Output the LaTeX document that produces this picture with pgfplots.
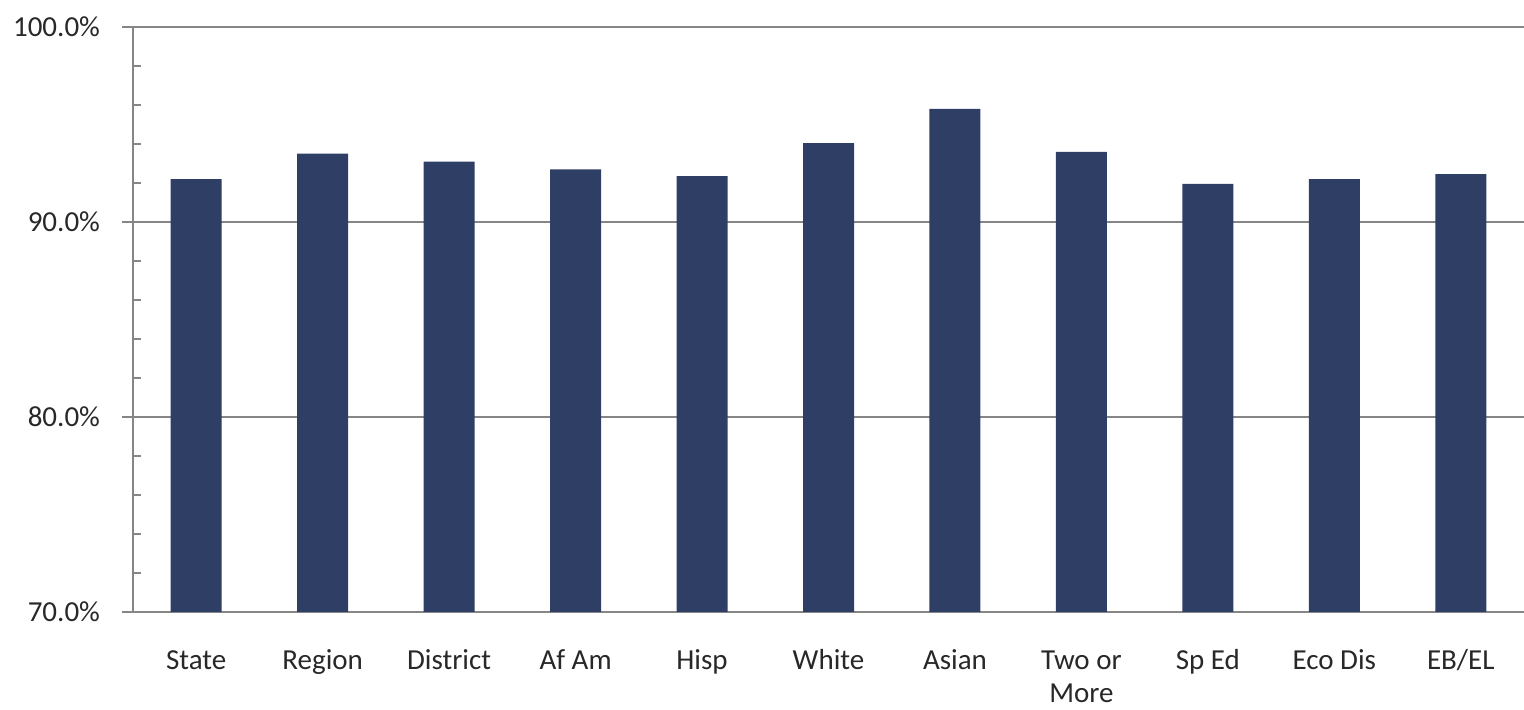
\documentclass[border=0pt]{standalone}
\usepackage{pgfplots}
\pgfplotsset{compat=1.18}
\usepackage{fontspec}
\setmainfont{Carlito}
\definecolor{barc}{RGB}{47,62,101}
\definecolor{gridc}{RGB}{134,134,134}
\definecolor{txt}{RGB}{40,40,40}
\begin{document}
\begin{tikzpicture}
\useasboundingbox (-66.5pt,-49pt) rectangle (695.5pt,306pt);
\begin{axis}[
  scale only axis, width=695.5pt, height=292.5pt,
  at={(0,0)}, anchor=south west,
  xmin=-0.5, xmax=10.5, ymin=70, ymax=100,
  axis lines*=left,
  axis line style={gridc, line width=0.9pt},
  ybar, bar width=25.5pt,
  ytick={70,80,90,100},
  minor ytick={72,74,76,78,82,84,86,88,92,94,96,98},
  ymajorgrids, grid style={gridc, line width=0.8pt},
  tick align=outside,
  major tick length=5.5pt, minor tick length=4pt,
  tick style={gridc, line width=0.8pt},
  minor y tick style={xshift=4pt},
  xtick={0,...,10},
  x tick style={draw=none},
  minor xtick={-0.5,0.5,...,10.5},
  xticklabels={\strut State,\strut Region,\strut District,\strut Af Am,\strut Hisp,\strut White,\strut Asian,{\strut Two or\\More},\strut Sp Ed,\strut Eco Dis,\strut EB/EL},
  xticklabel style={align=center, anchor=north, font=\fontsize{14.5}{16.5}\selectfont, text=txt, yshift=-8pt},
  yticklabel={\pgfmathprintnumber[fixed,fixed zerofill,precision=1,assume math mode=true]{\tick}\%},
  yticklabel style={font=\fontsize{14.5}{16.5}\selectfont, text=txt, xshift=-7.5pt},
]
\addplot[fill=barc, draw=none] coordinates {
  (0,92.2) (1,93.5) (2,93.1) (3,92.7) (4,92.35) (5,94.05) (6,95.8) (7,93.6) (8,91.95) (9,92.2) (10,92.45)
};
\end{axis}
\end{tikzpicture}
\end{document}
